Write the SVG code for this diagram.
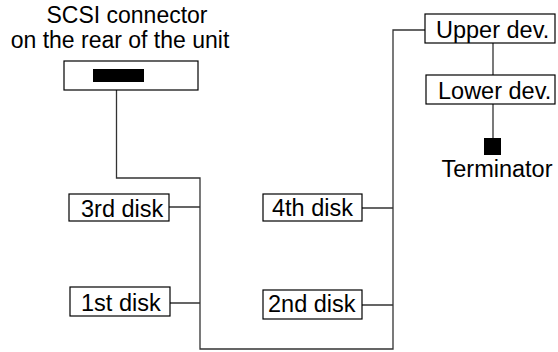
<svg xmlns="http://www.w3.org/2000/svg" width="558" height="352" viewBox="0 0 558 352">
<style>
.box{fill:#fff;stroke:#000;stroke-width:1.2}
.lbl{font-family:"Liberation Sans",Arial,sans-serif;font-size:23.5px;fill:#000}
.ttl{font-family:"Liberation Sans",Arial,sans-serif;font-size:23px;fill:#000}
.wire{fill:none;stroke:#333;stroke-width:1.3}
</style>
<rect width="558" height="352" fill="#fff"/>
<g id="connectors">
<path class="wire" d="M116.5,82 V178 H200 V349 H393 V30 H425"/>
<path class="wire" d="M169,207 H200 M170,303 H200 M362,208 H393 M362,305 H393"/>
<path class="wire" d="M493,43 V75 M493,104 V138"/>
</g>
<g id="scsi-connector">
<text class="ttl" x="127" y="23" text-anchor="middle">SCSI connector</text>
<text class="ttl" x="120" y="48" text-anchor="middle">on the rear of the unit</text>
<rect class="box" x="64" y="61" width="134" height="29"/>
<rect x="93" y="69" width="51" height="13" fill="#000"/>
</g>
<g id="disk3">
<rect class="box" x="69" y="194" width="100" height="27"/>
<text class="lbl" x="81" y="217">3rd disk</text>
</g>
<g id="disk1">
<rect class="box" x="70" y="287" width="100" height="29"/>
<text class="lbl" x="81" y="311">1st disk</text>
</g>
<g id="disk4">
<rect class="box" x="263" y="194" width="99" height="27"/>
<text class="lbl" x="272" y="216">4th disk</text>
</g>
<g id="disk2">
<rect class="box" x="263" y="290" width="99" height="29"/>
<text class="lbl" x="268" y="312">2nd disk</text>
</g>
<g id="upper-dev">
<rect class="box" x="425" y="14" width="130" height="29"/>
<text class="lbl" x="436" y="38">Upper dev.</text>
</g>
<g id="lower-dev">
<rect class="box" x="426" y="75" width="129" height="29"/>
<text class="lbl" x="438" y="99">Lower dev.</text>
</g>
<g id="terminator">
<rect x="484" y="138" width="17" height="17" fill="#000"/>
<text class="lbl" x="497" y="177" text-anchor="middle">Terminator</text>
</g>
</svg>
